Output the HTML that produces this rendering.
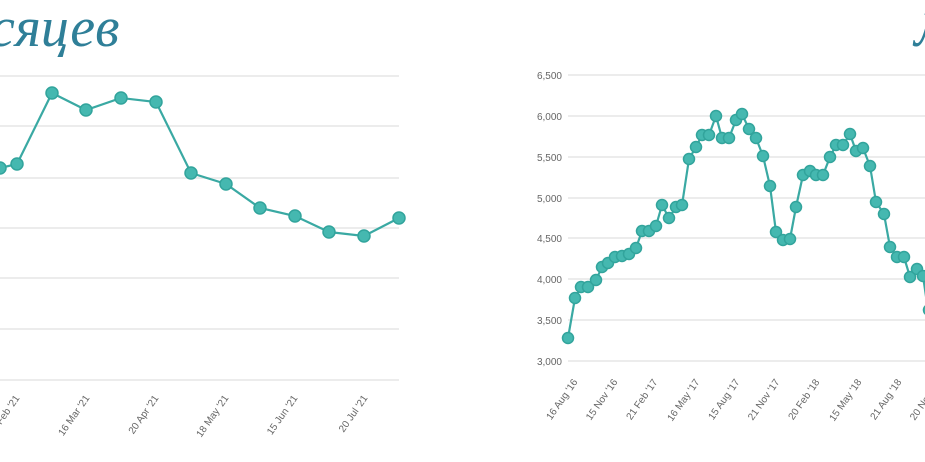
<!DOCTYPE html>
<html><head><meta charset="utf-8"><style>
html,body{margin:0;padding:0;background:#fff;}
svg{display:block;}
</style></head><body>
<svg width="925" height="462" viewBox="0 0 925 462" xmlns="http://www.w3.org/2000/svg" font-family="Liberation Sans, sans-serif">
<text x="-10" y="46" font-family="Liberation Serif, DejaVu Serif, serif" font-style="italic" font-size="56" fill="#2f7f98">сяцев</text>
<text x="914" y="46" font-family="Liberation Serif, serif" font-style="italic" font-size="50" fill="#2f7f98">Л</text>
<g stroke="#ececec" stroke-width="2">
<line x1="0" y1="76" x2="399" y2="76"/><line x1="0" y1="126" x2="399" y2="126"/><line x1="0" y1="178" x2="399" y2="178"/><line x1="0" y1="228" x2="399" y2="228"/><line x1="0" y1="278" x2="399" y2="278"/><line x1="0" y1="329" x2="399" y2="329"/><line x1="0" y1="380" x2="399" y2="380"/>
<line x1="568" y1="75" x2="925" y2="75"/><line x1="568" y1="116" x2="925" y2="116"/><line x1="568" y1="157" x2="925" y2="157"/><line x1="568" y1="198" x2="925" y2="198"/><line x1="568" y1="238" x2="925" y2="238"/><line x1="568" y1="279" x2="925" y2="279"/><line x1="568" y1="320" x2="925" y2="320"/><line x1="568" y1="361" x2="925" y2="361"/>
</g>
<g font-size="10" fill="#666" text-anchor="end">
<text x="562" y="79">6,500</text><text x="562" y="120">6,000</text><text x="562" y="161">5,500</text><text x="562" y="202">5,000</text><text x="562" y="242">4,500</text><text x="562" y="283">4,000</text><text x="562" y="324">3,500</text><text x="562" y="365">3,000</text>
</g>
<g font-size="10" fill="#666" text-anchor="end">
<text transform="translate(20,398) rotate(-55)">20 Feb '21</text>
<text transform="translate(90,398) rotate(-55)">16 Mar '21</text>
<text transform="translate(159,398) rotate(-55)">20 Apr '21</text>
<text transform="translate(229,398) rotate(-55)">18 May '21</text>
<text transform="translate(298,398) rotate(-55)">15 Jun '21</text>
<text transform="translate(368,398) rotate(-55)">20 Jul '21</text>
<text transform="translate(578,382) rotate(-55)">16 Aug '16</text>
<text transform="translate(618,382) rotate(-55)">15 Nov '16</text>
<text transform="translate(658,382) rotate(-55)">21 Feb '17</text>
<text transform="translate(700,382) rotate(-55)">16 May '17</text>
<text transform="translate(740,382) rotate(-55)">15 Aug '17</text>
<text transform="translate(780,382) rotate(-55)">21 Nov '17</text>
<text transform="translate(820,382) rotate(-55)">20 Feb '18</text>
<text transform="translate(862,382) rotate(-55)">15 May '18</text>
<text transform="translate(902,382) rotate(-55)">21 Aug '18</text>
<text transform="translate(942,382) rotate(-55)">20 Nov '18</text>
</g>
<g>
<polyline fill="none" stroke="#3aa9a3" stroke-width="2.2" points="-17,172 17,164 52,93 86,110 121,98 156,102 191,173 226,184 260,208 295,216 329,232 364,236 399,218"/>
<g fill="#45b8b0" stroke="#32a49c" stroke-width="1.5">
<circle cx="0" cy="168" r="6"/><circle cx="17" cy="164" r="6"/><circle cx="52" cy="93" r="6"/><circle cx="86" cy="110" r="6"/><circle cx="121" cy="98" r="6"/><circle cx="156" cy="102" r="6"/><circle cx="191" cy="173" r="6"/><circle cx="226" cy="184" r="6"/><circle cx="260" cy="208" r="6"/><circle cx="295" cy="216" r="6"/><circle cx="329" cy="232" r="6"/><circle cx="364" cy="236" r="6"/><circle cx="399" cy="218" r="6"/>
</g></g>
<g>
<polyline fill="none" stroke="#3aa9a3" stroke-width="2.2" points="568,338 575,298 581,287 588,287 596,280 602,267 608,263 615,257 622,256 629,254 636,248 642,231 649,231 656,226 662,205 669,218 676,207 682,205 689,159 696,147 702,135 709,135 716,116 722,138 729,138 736,120 742,114 749,129 756,138 763,156 770,186 776,232 783,240 790,239 796,207 803,175 810,171 816,175 823,175 830,157 836,145 843,145 850,134 856,151 863,148 870,166 876,202 884,214 890,247 897,257 904,257 910,277 917,269 923,276 928,310"/>
<g fill="#45b8b0" stroke="#32a49c" stroke-width="1.5">
<circle cx="568" cy="338" r="5.5"/><circle cx="575" cy="298" r="5.5"/><circle cx="581" cy="287" r="5.5"/><circle cx="588" cy="287" r="5.5"/><circle cx="596" cy="280" r="5.5"/><circle cx="602" cy="267" r="5.5"/><circle cx="608" cy="263" r="5.5"/><circle cx="615" cy="257" r="5.5"/><circle cx="622" cy="256" r="5.5"/><circle cx="629" cy="254" r="5.5"/><circle cx="636" cy="248" r="5.5"/><circle cx="642" cy="231" r="5.5"/><circle cx="649" cy="231" r="5.5"/><circle cx="656" cy="226" r="5.5"/><circle cx="662" cy="205" r="5.5"/><circle cx="669" cy="218" r="5.5"/><circle cx="676" cy="207" r="5.5"/><circle cx="682" cy="205" r="5.5"/><circle cx="689" cy="159" r="5.5"/><circle cx="696" cy="147" r="5.5"/><circle cx="702" cy="135" r="5.5"/><circle cx="709" cy="135" r="5.5"/><circle cx="716" cy="116" r="5.5"/><circle cx="722" cy="138" r="5.5"/><circle cx="729" cy="138" r="5.5"/><circle cx="736" cy="120" r="5.5"/><circle cx="742" cy="114" r="5.5"/><circle cx="749" cy="129" r="5.5"/><circle cx="756" cy="138" r="5.5"/><circle cx="763" cy="156" r="5.5"/><circle cx="770" cy="186" r="5.5"/><circle cx="776" cy="232" r="5.5"/><circle cx="783" cy="240" r="5.5"/><circle cx="790" cy="239" r="5.5"/><circle cx="796" cy="207" r="5.5"/><circle cx="803" cy="175" r="5.5"/><circle cx="810" cy="171" r="5.5"/><circle cx="816" cy="175" r="5.5"/><circle cx="823" cy="175" r="5.5"/><circle cx="830" cy="157" r="5.5"/><circle cx="836" cy="145" r="5.5"/><circle cx="843" cy="145" r="5.5"/><circle cx="850" cy="134" r="5.5"/><circle cx="856" cy="151" r="5.5"/><circle cx="863" cy="148" r="5.5"/><circle cx="870" cy="166" r="5.5"/><circle cx="876" cy="202" r="5.5"/><circle cx="884" cy="214" r="5.5"/><circle cx="890" cy="247" r="5.5"/><circle cx="897" cy="257" r="5.5"/><circle cx="904" cy="257" r="5.5"/><circle cx="910" cy="277" r="5.5"/><circle cx="917" cy="269" r="5.5"/><circle cx="923" cy="276" r="5.5"/><circle cx="929" cy="310" r="5.5"/>
</g></g>
</svg>
</body></html>
